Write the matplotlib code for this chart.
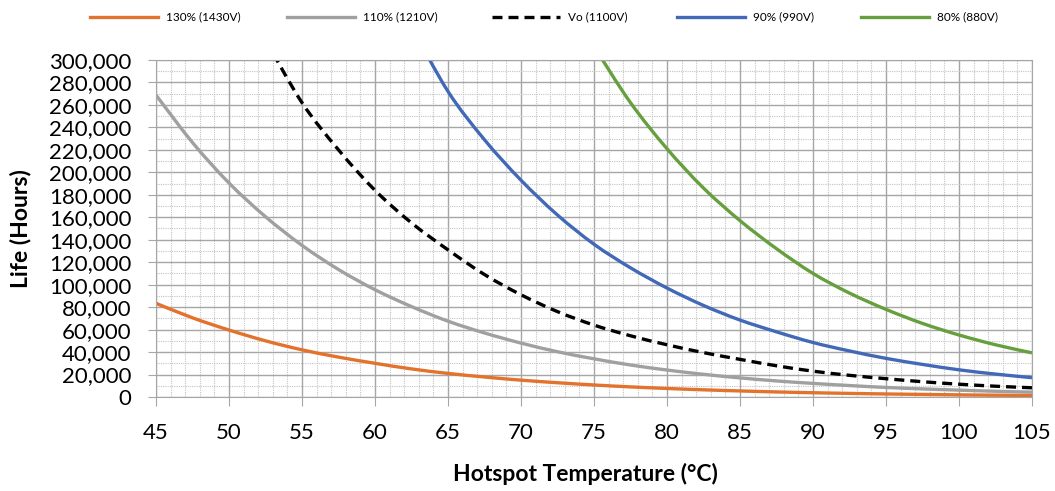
import matplotlib
matplotlib.use("Agg")
import matplotlib.pyplot as plt
from matplotlib.lines import Line2D
from matplotlib.path import Path
from matplotlib.patches import PathPatch
from matplotlib.ticker import MultipleLocator, FuncFormatter

plt.rcParams['font.family'] = ['Lato', 'DejaVu Sans']

# hotspot temperature (C), read every 2.5 degrees
temp = [45, 47.5, 50, 52.5, 55, 57.5, 60, 62.5, 65, 67.5, 70, 72.5, 75,
        77.5, 80, 82.5, 85, 87.5, 90, 92.5, 95, 97.5, 100, 102.5, 105]

# life in thousands of hours
life_130 = [83.4, 70.5, 59.6, 50.0, 42.0, 35.5, 30.0, 25.0, 21.0, 17.8, 15.0, 12.7, 10.7,
            9.0, 7.6, 6.4, 5.4, 4.5, 3.8, 3.2, 2.7, 2.3, 1.9, 1.6, 1.35]
life_110 = [268.8, 226.5, 190.5, 160.5, 135.0, 113.5, 95.5, 80.5, 67.5, 57.0, 48.0, 40.3, 34.0,
            28.5, 24.0, 20.2, 17.0, 14.3, 12.1, 10.2, 8.5, 7.2, 6.1, 5.1, 4.3]

temp_vo = temp[3:]
life_vo = [318, 262, 220, 184, 155, 131, 109, 91, 76, 64, 54.5, 46.5, 39.5,
           33.5, 27.8, 23.0, 19.3, 16.3, 13.6, 11.4, 9.6, 8.2]

temp_90 = [62.5, 65, 67.5, 70, 72.5, 75, 77.5, 80, 82.5, 85, 87.5, 90, 92.5,
           95, 97.5, 100, 102.5, 105]
life_90 = [330, 272, 229, 193, 162, 136, 115, 97, 81.5, 68.5, 58, 48.5, 41,
           34.4, 29, 24.2, 20.4, 17.2]

temp_80 = temp[12:]
life_80 = [312, 262, 221, 186, 157, 132, 110, 92.5, 78, 65.5, 55.2, 46.5, 39.3]

labels = ['130% (1430V)', '110% (1210V)', 'Vo (1100V)', '90% (990V)', '80% (880V)']
colors = ['#E2722C', '#A0A0A0', '#000000', '#4169B8', '#66A03E']
dashes = '-', '-', (0, (3, 1.8)), '-', '-'


def smooth_path(xs, ys):
    # excel-style smoothed line: cubic bezier through every point
    pts = list(zip(xs, ys))
    verts = [pts[0]]
    codes = [Path.MOVETO]
    n = len(pts)
    for i in range(n - 1):
        p0 = pts[max(i - 1, 0)]
        p1 = pts[i]
        p2 = pts[i + 1]
        p3 = pts[min(i + 2, n - 1)]
        c1 = (p1[0] + (p2[0] - p0[0]) / 6, p1[1] + (p2[1] - p0[1]) / 6)
        c2 = (p2[0] - (p3[0] - p1[0]) / 6, p2[1] - (p3[1] - p1[1]) / 6)
        verts += [c1, c2, p2]
        codes += [Path.CURVE4] * 3
    return Path(verts, codes)


W, H = 1055, 491
fig = plt.figure(figsize=(W / 100, H / 100), dpi=100)
ax = fig.add_axes([156 / W, 1 - 397 / H, 876 / W, 337 / H])

k = 1000
series = [(temp, life_130), (temp, life_110), (temp_vo, life_vo),
          (temp_90, life_90), (temp_80, life_80)]
for (xs, ys), c, ls in zip(series, colors, dashes):
    ax.add_patch(PathPatch(smooth_path(xs, [v * k for v in ys]), fill=False,
                           edgecolor=c, lw=2.4, ls=ls, capstyle='butt'))

ax.set_xlim(45, 105)
ax.set_ylim(0, 300000)
ax.xaxis.set_major_locator(MultipleLocator(5))
ax.xaxis.set_minor_locator(MultipleLocator(1))
ax.yaxis.set_major_locator(MultipleLocator(20000))
ax.yaxis.set_minor_locator(MultipleLocator(10000))
ax.yaxis.set_major_formatter(FuncFormatter(lambda v, p: f"{int(v):,}"))

ax.grid(which='major', color='#a6a6a6', lw=1.0)
ax.grid(which='minor', color='#c4c4c4', lw=0.8, ls=(0, (1, 1)))
ax.set_axisbelow(True)
for s in ax.spines.values():
    s.set_color('#a6a6a6')
ax.tick_params(which='major', color='#a6a6a6', labelsize=16)
ax.tick_params(axis='y', which='major', length=5.8, pad=12)
ax.tick_params(axis='x', which='major', length=6.5, pad=12)
ax.tick_params(which='minor', length=0)

ax.set_xlabel('Hotspot Temperature (°C)', fontsize=16.5, fontweight='bold')
ax.xaxis.set_label_coords(0.4897, -0.197)
ax.set_ylabel('Life (Hours)', fontsize=16.5, fontweight='bold')
ax.yaxis.set_label_coords((31 - 156) / 876, 0.5)

# legend row along the top
leg_x = [90, 287, 492, 677, 861]
leg_y = 1 - 17 / H
for x0, lab, c, ls in zip(leg_x, labels, colors, dashes):
    fig.add_artist(Line2D([x0 / W, (x0 + 68) / W], [leg_y, leg_y],
                          color=c, lw=2.4, ls=ls, transform=fig.transFigure))
    fig.text((x0 + 76) / W, leg_y, lab, fontsize=8.5, va='center', ha='left')

fig.savefig('out.png', dpi=100)
